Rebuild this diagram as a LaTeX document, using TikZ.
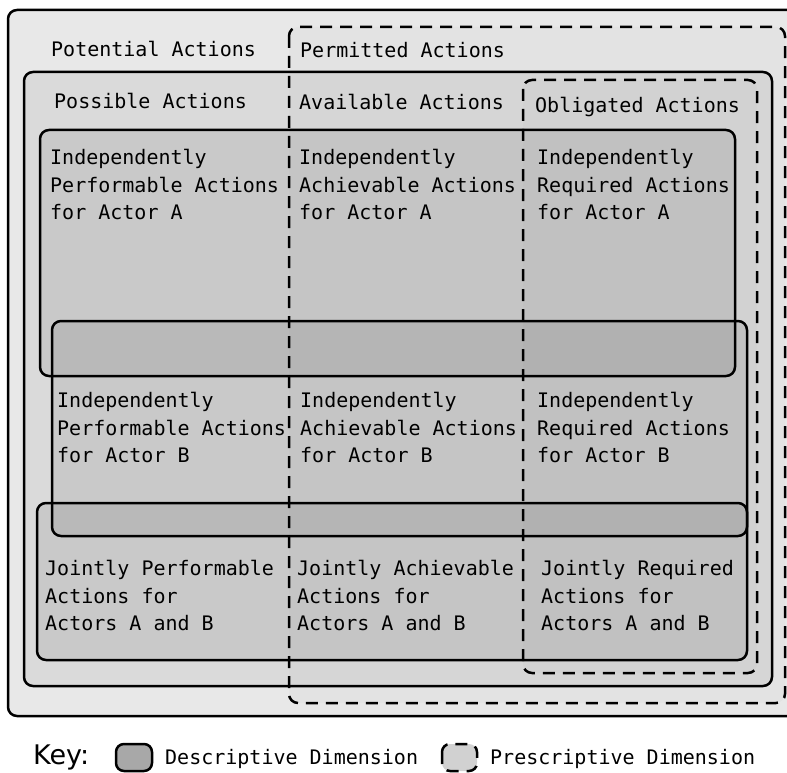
\documentclass[tikz,border=0pt]{standalone}
\usepackage{fontspec}
\newfontfamily\monofont{DejaVu Sans Mono}
\newfontfamily\keyfont{DejaVu Sans}
\newcommand{\boxfont}{\monofont\fontsize{20}{27.5}\selectfont}

\begin{document}
\begin{tikzpicture}[x=1pt, y=-1pt,
    descr/.style={draw=black, line width=2.5pt, rounded corners=9pt, fill=black, fill opacity=#1},
    presc/.style={draw=black, line width=2.5pt, dash pattern=on 12pt off 8pt, rounded corners=9pt, fill=black, fill opacity=#1},
    lbl/.style={anchor=north west, inner sep=0pt, align=left, font=\boxfont}
]
\useasboundingbox (0,0) rectangle (787,773);
\clip (0,0) rectangle (787,773);

% descriptive dimension
\draw[descr=0.09] (8,10) rectangle (810,716);
\draw[descr=0.06] (24,72) rectangle (772,686);
\draw[descr=0.08] (40,130) rectangle (735,376);
\draw[descr=0.08] (52,321) rectangle (747,536);
\draw[descr=0.08] (37,503) rectangle (747,660);

% prescriptive dimension
\draw[presc=0.02] (289,27) rectangle (785,703);
\draw[presc=0.02] (523,80) rectangle (757,673);

\node[lbl] (pot) at (51,41) {Potential Actions};
\node[lbl] (perm) at (300,42) {Permitted Actions};
\node[lbl] (poss) at (54,93) {Possible Actions};
\node[lbl] (avail) at (299,94) {Available Actions};
\node[lbl] (oblig) at (535,97) {Obligated Actions};

\node[lbl] (perfA) at (50,149) {Independently\\Performable Actions\\for Actor A};
\node[lbl] (achA) at (299,149) {Independently\\Achievable Actions\\for Actor A};
\node[lbl] (reqA) at (537,149) {Independently\\Required Actions\\for Actor A};

\node[lbl] (perfB) at (57,392) {Independently\\Performable Actions\\for Actor B};
\node[lbl] (achB) at (300,392) {Independently\\Achievable Actions\\for Actor B};
\node[lbl] (reqB) at (537,392) {Independently\\Required Actions\\for Actor B};

\node[lbl] (perfAB) at (45,560) {Jointly Performable\\Actions for\\Actors A and B};
\node[lbl] (achAB) at (297,560) {Jointly Achievable\\Actions for\\Actors A and B};
\node[lbl] (reqAB) at (541,560) {Jointly Required\\Actions for\\Actors A and B};

% key
\node[anchor=north west, inner sep=0pt, font=\keyfont\fontsize{27}{30}\selectfont] (key) at (33,745) {Key:};
\draw[descr=0.34, rounded corners=8pt] (116,744) rectangle (152,771);
\node[lbl] (keydescr) at (165,749) {Descriptive Dimension};
\draw[presc=0.18, rounded corners=8pt] (442,744) rectangle (477,771);
\node[lbl] (keypresc) at (490,749) {Prescriptive Dimension};

\end{tikzpicture}
\end{document}
